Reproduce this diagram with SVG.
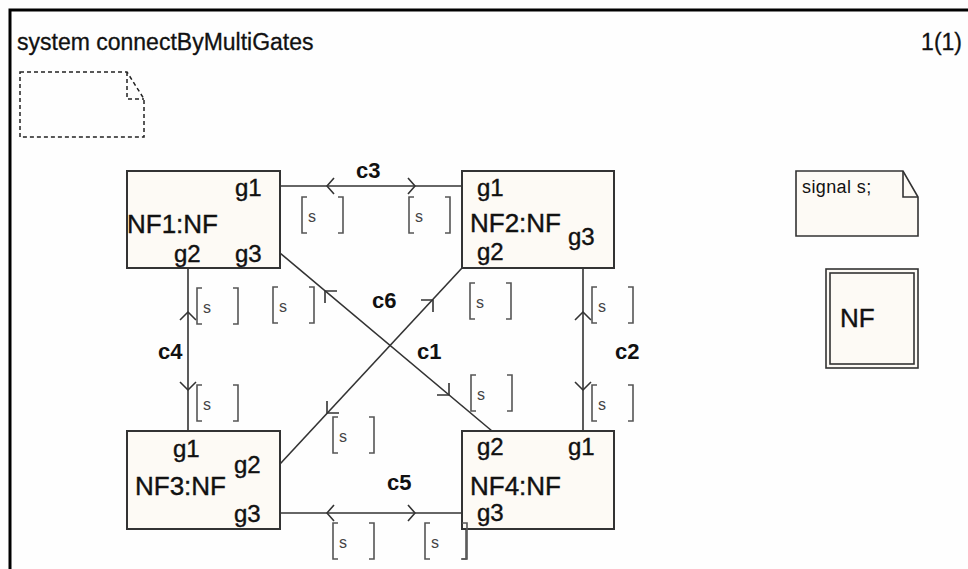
<svg xmlns="http://www.w3.org/2000/svg" width="968" height="569" viewBox="0 0 968 569">
<style>
text{font-family:"Liberation Sans",Arial,sans-serif;fill:#111}
.title{font-size:23px;stroke:#111;stroke-width:0.3}
.inst{font-size:26px;stroke:#111;stroke-width:0.4}
.gate{font-size:24px;stroke:#111;stroke-width:0.4}
.ch{font-size:22px;font-weight:bold}
.sig{font-size:16px;fill:#444}
.node{fill:#fdfaf5;stroke:#333;stroke-width:2}
.line{fill:none;stroke:#333;stroke-width:1.6}
.arr{fill:none;stroke:#333;stroke-width:1.6;stroke-linejoin:round}
.br{fill:none;stroke:#555;stroke-width:1.6}
</style>
<defs>
<path id="brk" d="M5,0 H0 V36 H5 M36,0 H41 V36 H36"/>
</defs>
<rect x="0" y="0" width="968" height="569" fill="#fefefe"/>
<path d="M10,570 V10 H970" fill="none" stroke="#000" stroke-width="3"/>
<text class="title" x="17" y="50">system connectByMultiGates</text>
<text class="title" x="962" y="50" text-anchor="end">1(1)</text>

<g id="comment">
<path d="M20,72 H127 L144,99 V137 H20 Z M127,72 V99 H144" fill="none" stroke="#222" stroke-width="1.5" stroke-dasharray="4,3"/>
</g>

<g id="connectors">
<g id="c3">
<path class="line" d="M280,186 H462"/>
<path class="arr" d="M334,178 L327,186 L334,194 M408,178 L415,186 L408,194"/>
<text class="ch" x="356" y="178">c3</text>
</g>
<g id="c4">
<path class="line" d="M188,268 V431"/>
<path class="arr" d="M180,320 L188,312 L196,320 M180,382 L188,390 L196,382"/>
<text class="ch" x="158" y="359">c4</text>
</g>
<g id="c2">
<path class="line" d="M583,268 V431"/>
<path class="arr" d="M575,320 L583,312 L591,320 M575,382 L583,390 L591,382"/>
<text class="ch" x="615" y="359">c2</text>
</g>
<g id="c5">
<path class="line" d="M280,513 H462"/>
<path class="arr" d="M334,505 L327,513 L334,521 M408,505 L415,513 L408,521"/>
<text class="ch" x="387" y="490">c5</text>
</g>
<g id="c1">
<path class="line" d="M280,253 L492,431"/>
<path class="arr" d="M337,291 L325,291 L325,303 M437,395 L449,395 L449,383"/>
<text class="ch" x="417" y="359">c1</text>
</g>
<g id="c6">
<path class="line" d="M462,268 L280,464"/>
<path class="arr" d="M421,300 L433,300 L433,312 M327,401 L327,413 L339,413"/>
<text class="ch" x="372" y="308">c6</text>
</g>
<g id="signals">
<use href="#brk" class="br" x="302" y="197"/><text class="sig" x="308" y="222">s</text>
<use href="#brk" class="br" x="409" y="197"/><text class="sig" x="415" y="222">s</text>
<use href="#brk" class="br" x="197" y="288"/><text class="sig" x="203" y="313">s</text>
<use href="#brk" class="br" x="197" y="385"/><text class="sig" x="203" y="410">s</text>
<use href="#brk" class="br" x="273" y="287"/><text class="sig" x="279" y="312">s</text>
<use href="#brk" class="br" x="470" y="283"/><text class="sig" x="476" y="308">s</text>
<use href="#brk" class="br" x="471" y="375"/><text class="sig" x="477" y="400">s</text>
<use href="#brk" class="br" x="333" y="417"/><text class="sig" x="339" y="442">s</text>
<use href="#brk" class="br" x="592" y="287"/><text class="sig" x="598" y="312">s</text>
<use href="#brk" class="br" x="592" y="385"/><text class="sig" x="598" y="410">s</text>
<use href="#brk" class="br" x="333" y="523"/><text class="sig" x="339" y="548">s</text>
<use href="#brk" class="br" x="425" y="523"/><text class="sig" x="431" y="548">s</text>
</g>
</g>

<g id="NF1">
<rect class="node" x="127" y="171" width="153" height="97"/>
<text class="gate" x="235" y="196">g1</text>
<text class="inst" x="127" y="233">NF1:NF</text>
<text class="gate" x="174" y="262">g2</text>
<text class="gate" x="235" y="262">g3</text>
</g>
<g id="NF2">
<rect class="node" x="462" y="171" width="152" height="97"/>
<text class="gate" x="477" y="196">g1</text>
<text class="inst" x="470" y="232">NF2:NF</text>
<text class="gate" x="568" y="245">g3</text>
<text class="gate" x="477" y="260">g2</text>
</g>
<g id="NF3">
<rect class="node" x="127" y="431" width="153" height="98"/>
<text class="gate" x="173" y="457">g1</text>
<text class="inst" x="135" y="495">NF3:NF</text>
<text class="gate" x="234" y="473">g2</text>
<text class="gate" x="234" y="522">g3</text>
</g>
<g id="NF4">
<rect class="node" x="462" y="431" width="152" height="98"/>
<text class="gate" x="477" y="455">g2</text>
<text class="gate" x="568" y="455">g1</text>
<text class="inst" x="470" y="495">NF4:NF</text>
<text class="gate" x="477" y="521">g3</text>
</g>
<path class="br" d="M462,523 H467 V559 H462"/>

<g id="signalNote">
<path d="M796,171 H903 L918,197 V236 H796 Z" fill="#fdfaf5" stroke="#333" stroke-width="1.6"/>
<path d="M903,171 V197 H918" fill="none" stroke="#333" stroke-width="1.6"/>
<text x="802" y="193" font-size="18" letter-spacing="0.4">signal s;</text>
</g>
<g id="NFType">
<rect x="826" y="269" width="92" height="99" fill="#fdfaf5" stroke="#333" stroke-width="1.6"/>
<rect x="830" y="273" width="84" height="91" fill="none" stroke="#333" stroke-width="1.6"/>
<text class="inst" x="840" y="327">NF</text>
</g>
</svg>
